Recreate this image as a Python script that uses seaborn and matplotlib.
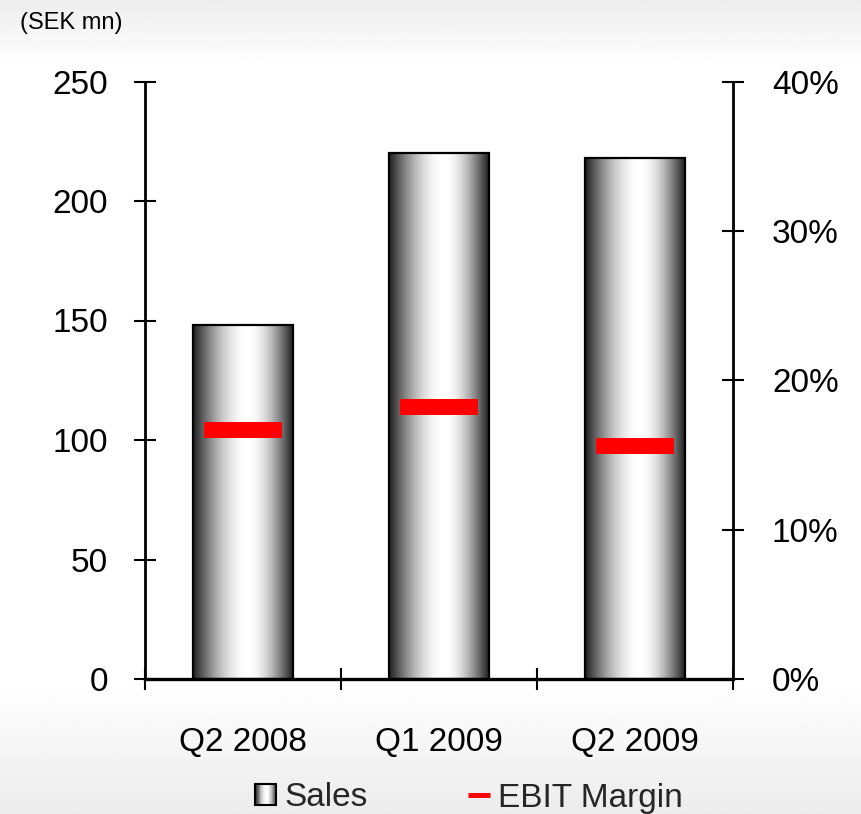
import numpy as np
import pandas as pd
import matplotlib
matplotlib.use("Agg")
import matplotlib.pyplot as plt
import seaborn as sns
from matplotlib.path import Path
from matplotlib.patches import Rectangle
from matplotlib.lines import Line2D
from matplotlib.legend_handler import HandlerBase
from matplotlib.ticker import FixedLocator, PercentFormatter

# Quarterly figures
quarters = ["Q2 2008", "Q1 2009", "Q2 2009"]
sales_sek_mn = [148, 220, 218]
ebit_margin_pct = [16.7, 18.2, 15.6]

sales_ticks = [0, 50, 100, 150, 200, 250]
margin_ticks = [0, 10, 20, 30, 40]

sns.set_theme(style="white")
plt.rcParams["font.family"] = ["Liberation Sans", "DejaVu Sans"]

df = pd.DataFrame({"quarter": quarters, "sales": sales_sek_mn, "margin": ebit_margin_pct})

W, H, DPI = 861, 814, 100
fig = plt.figure(figsize=(W / DPI, H / DPI), dpi=DPI)

# Soft grey page background, fading to white in the middle
bg = fig.add_axes([0, 0, 1, 1], zorder=-10)
yy = np.linspace(0, 1, 400)  # 0 = top, 1 = bottom
shade = np.ones_like(yy)
top = yy < 0.08
shade[top] = 0.93 + 0.07 * (yy[top] / 0.08)
bot = yy > 0.84
shade[bot] = 1.0 - 0.075 * ((yy[bot] - 0.84) / 0.16)
bg.imshow(np.tile(shade[:, None], (1, 2)), cmap="gray", vmin=0, vmax=1,
          aspect="auto", extent=[0, 1, 0, 1])
bg.set_axis_off()


def cylinder_profile(n=256):
    t = np.linspace(0, 1, n)
    c = 0.55
    half = np.where(t < c, c, 1 - c)
    u = np.clip(np.abs(t - c) / half, 0, 1)
    return 0.13 + 0.87 * np.cos(np.pi / 2 * u)


profile = cylinder_profile()

ax = fig.add_axes([145 / W, 1 - 679 / H, (733 - 145) / W, (679 - 81.5) / H])
ax.patch.set_alpha(0)

sns.barplot(data=df, x="quarter", y="sales", width=0.51, facecolor="none",
            edgecolor="black", linewidth=1.6, ax=ax, zorder=3)

# Metallic cylinder shading inside each bar
for bar in ax.patches:
    x0, w, h = bar.get_x(), bar.get_width(), bar.get_height()
    ax.imshow(profile[None, :], cmap="gray", vmin=0, vmax=1, aspect="auto",
              extent=[x0, x0 + w, 0, h], zorder=2, interpolation="bilinear")

ax.set_xlim(-0.5, len(quarters) - 0.5)
ax.set_ylim(0, 250)
ax.set_yticks(sales_ticks)
ax.set_xlabel("")
ax.set_ylabel("")

# Boundary ticks between quarters, labels centred on the bars
ax.xaxis.set_major_locator(FixedLocator(np.arange(-0.5, len(quarters), 1.0)))
ax.xaxis.set_minor_locator(FixedLocator(np.arange(len(quarters))))
ax.xaxis.set_major_formatter(plt.NullFormatter())
ax.set_xticks(np.arange(len(quarters)), quarters, minor=True)

for s in ["top", "right"]:
    ax.spines[s].set_visible(False)
for s in ["left", "bottom"]:
    ax.spines[s].set_linewidth(2.0)
    ax.spines[s].set_color("black")
    ax.spines[s].set_zorder(5)
ax.spines["bottom"].set_linewidth(2.4)

ax.tick_params(axis="y", direction="inout", length=16, width=1.5, pad=18.5,
               labelsize=24, colors="black", left=True)
ax.tick_params(axis="x", which="major", direction="inout", length=16, width=1.5,
               bottom=True, colors="black")
ax.tick_params(axis="x", which="minor", length=0, pad=34.5, labelsize=24,
               labelcolor="black")

ax2 = ax.twinx()
ax2.patch.set_alpha(0)
rect_marker = Path([(-1, -0.205), (1, -0.205), (1, 0.205), (-1, 0.205), (-1, -0.205)],
                   [Path.MOVETO, Path.LINETO, Path.LINETO, Path.LINETO, Path.CLOSEPOLY])
sns.scatterplot(data=df, x=np.arange(len(quarters)), y="margin", marker=rect_marker,
                s=56.2 ** 2, color="#ff0000", edgecolor="none", linewidth=0,
                ax=ax2, zorder=6, legend=False)
ax2.set_ylim(0, 40)
ax2.set_yticks(margin_ticks)
ax2.yaxis.set_major_formatter(PercentFormatter(decimals=0))
ax2.set_ylabel("")
ax2.set_xlim(-0.5, len(quarters) - 0.5)
for s in ["top", "left", "bottom"]:
    ax2.spines[s].set_visible(False)
ax2.spines["right"].set_linewidth(2.0)
ax2.spines["right"].set_color("black")
ax2.tick_params(axis="y", direction="inout", length=16, width=1.5, pad=20,
                labelsize=24, colors="black", right=True)

fig.text(20 / W, 1 - 23 / H, "(SEK mn)", fontsize=17, ha="left", va="center",
         color="black")


class CylinderHandler(HandlerBase):
    def create_artists(self, legend, orig_handle, xdescent, ydescent, width,
                       height, fontsize, trans):
        side = min(width, height * 1.0)
        x0 = -xdescent + (width - side) / 2
        y0 = -ydescent + (height - side) / 2
        artists = []
        n = 24
        cols = cylinder_profile(n)
        for i in range(n):
            r = Rectangle((x0 + side * i / n, y0), side / n + 0.3, side,
                          facecolor=str(cols[i]), edgecolor="none", transform=trans)
            artists.append(r)
        artists.append(Rectangle((x0, y0), side, side, facecolor="none",
                                 edgecolor="black", linewidth=1.5, transform=trans))
        return artists


sales_handle = Rectangle((0, 0), 1, 1)
ebit_handle = Line2D([], [], color="#ff0000", linewidth=3.6, solid_capstyle="butt")
fig.legend([sales_handle, ebit_handle], ["Sales", "EBIT Margin"],
           handler_map={Rectangle: CylinderHandler()},
           loc="center", bbox_to_anchor=(469 / W, 1 - 798 / H), ncol=2,
           frameon=False, fontsize=24, handlelength=0.65, handleheight=0.6,
           handletextpad=0.25, columnspacing=3.0, borderpad=0, borderaxespad=0)

fig.savefig("out.png", dpi=DPI)
